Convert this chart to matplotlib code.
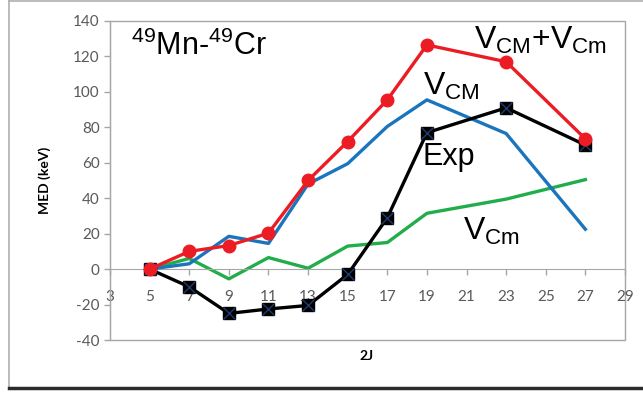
import numpy as np
import matplotlib.pyplot as plt
from matplotlib.patches import Rectangle
from matplotlib.lines import Line2D

plt.rcParams['mathtext.fontset'] = 'custom'
plt.rcParams['mathtext.rm'] = 'Liberation Sans'
plt.rcParams['mathtext.it'] = 'Liberation Sans'
plt.rcParams['axes.unicode_minus'] = False

# MED values (keV) vs 2J
two_j = [5, 7, 9, 11, 13, 15, 17, 19, 23, 27]
exp = [0, -10, -25, -22.5, -20.5, -3, 29, 77, 91, 70]
v_cm = [0, 3, 18.5, 14.5, 48, 59.5, 80.5, 95.5, 76.5, 22.5]
v_cm_small = [0, 6, -5.5, 6.5, 0.5, 13, 15, 31.5, 39.5, 50.5]
v_total = [0, 10, 13.3, 20.3, 50, 72, 95.5, 126.5, 117, 73.5]

x_ticks = np.arange(3, 30, 2)
y_ticks = np.arange(-40, 141, 20)

fig = plt.figure(figsize=(6.43, 3.94), dpi=100)
ax = fig.add_axes([110 / 643, 1 - 340 / 394, 515 / 643, 319 / 394])

ax.plot(two_j, v_cm_small, color='#21ae4a', lw=2.4, zorder=2)
ax.plot(two_j, v_cm, color='#1b75bc', lw=2.4, zorder=3)
ax.plot(two_j, exp, color='black', lw=2.4, marker='s', ms=9,
        mfc='black', mec='black', zorder=4)
ax.plot(two_j, exp, ls='none', marker='x', ms=8, mew=1.0,
        color='#1f3a6e', zorder=4.5)
ax.plot(two_j, v_total, color='#ec1c24', lw=2.4, marker='o', ms=9,
        mfc='#ec1c24', mec='#ec1c24', zorder=5)

ax.set_xlim(3, 29)
ax.set_ylim(-40, 140)
ax.set_xticks(x_ticks)
ax.set_yticks(y_ticks)

gray = '#a6a6a6'
for side in ['top', 'right']:
    ax.spines[side].set_visible(False)
ax.spines['left'].set_color(gray)
ax.spines['bottom'].set_color(gray)
ax.spines['bottom'].set_position(('data', 0))
ax.add_patch(Rectangle((0, 0), 1, 1, transform=ax.transAxes, fill=False,
                       edgecolor=gray, lw=1, clip_on=False, zorder=0))

ax.tick_params(axis='both', colors=gray, labelcolor='#595959', labelsize=11,
               length=4, width=1)
ax.tick_params(axis='x', pad=11)
for lab in ax.get_xticklabels() + ax.get_yticklabels():
    lab.set_family('Lato')

ax.text(0.04, 0.92, '$^{49}$Mn-$^{49}$Cr', transform=ax.transAxes,
        fontsize=22, family='Liberation Sans', va='center')
ax.text(21.4, 129, r'V$_{\mathregular{CM}}$+V$_{\mathregular{Cm}}$',
        fontsize=23, family='Liberation Sans', ha='left', va='center')
ax.text(18.8, 103, r'V$_{\mathregular{CM}}$', fontsize=23,
        family='Liberation Sans', ha='left', va='center')
ax.text(18.8, 63, 'Exp', fontsize=22, family='Liberation Sans',
        ha='left', va='center')
ax.text(20.8, 21, r'V$_{\mathregular{Cm}}$', fontsize=23,
        family='Liberation Sans', ha='left', va='center')

fig.text(45 / 643, 1 - 180 / 394, 'MED (keV)', rotation=90, fontsize=10,
         fontweight='bold', family='Lato', ha='center', va='center')
fig.text(367 / 643, 1 - 356 / 394, '2J', fontsize=10, fontweight='bold',
         family='Lato', ha='center', va='center')

# outer frame
fig.add_artist(Line2D([9 / 643, 9 / 643], [1 - 388 / 394, 1 - 1 / 394],
                      color='#b0b0b0', lw=1.2))
fig.add_artist(Line2D([9 / 643, 1], [1 - 1 / 394, 1 - 1 / 394],
                      color='#b0b0b0', lw=1.2))
fig.add_artist(Line2D([9 / 643, 1], [1 - 388 / 394, 1 - 388 / 394],
                      color='#2b2b2b', lw=2.5))

fig.savefig('out.png', dpi=100)
